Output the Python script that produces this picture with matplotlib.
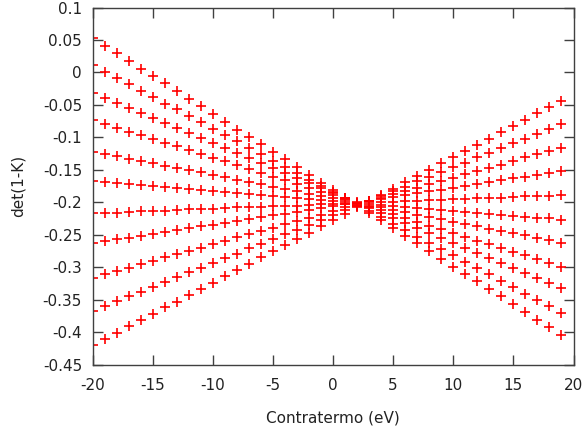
import matplotlib

matplotlib.use("Agg")
import matplotlib.pyplot as plt  # noqa: E402
from matplotlib.ticker import MultipleLocator  # noqa: E402

# counterterm values (eV), one marker per integer step
contratermo = list(range(-20, 20))

# det(1-K), one list per curve, ordered top-to-bottom at the left edge
det_1 = [0.053, 0.041, 0.030, 0.018, 0.006, -0.006, -0.017, -0.029, -0.041, -0.052,
         -0.064, -0.076, -0.088, -0.099, -0.111, -0.123, -0.134, -0.146, -0.158, -0.170,
         -0.181, -0.193, -0.205, -0.217, -0.228, -0.240, -0.252, -0.263, -0.275, -0.287,
         -0.299, -0.310, -0.322, -0.334, -0.345, -0.357, -0.369, -0.381, -0.392, -0.404]
det_2 = [0.011, 0.001, -0.009, -0.018, -0.028, -0.038, -0.048, -0.057, -0.067, -0.077,
         -0.087, -0.096, -0.106, -0.116, -0.126, -0.136, -0.145, -0.155, -0.165, -0.175,
         -0.184, -0.194, -0.204, -0.214, -0.223, -0.233, -0.243, -0.253, -0.263, -0.272,
         -0.282, -0.292, -0.302, -0.311, -0.321, -0.331, -0.341, -0.350, -0.360, -0.370]
det_3 = [-0.032, -0.040, -0.047, -0.055, -0.063, -0.070, -0.078, -0.086, -0.094, -0.101,
         -0.109, -0.117, -0.124, -0.132, -0.140, -0.147, -0.155, -0.163, -0.170, -0.178,
         -0.186, -0.194, -0.201, -0.209, -0.217, -0.224, -0.232, -0.240, -0.247, -0.255,
         -0.263, -0.270, -0.278, -0.286, -0.294, -0.301, -0.309, -0.317, -0.324, -0.332]
det_4 = [-0.074, -0.080, -0.086, -0.091, -0.097, -0.103, -0.109, -0.114, -0.120, -0.126,
         -0.132, -0.137, -0.143, -0.149, -0.155, -0.161, -0.166, -0.172, -0.178, -0.184,
         -0.189, -0.195, -0.201, -0.207, -0.212, -0.218, -0.224, -0.230, -0.236, -0.241,
         -0.247, -0.253, -0.259, -0.264, -0.270, -0.276, -0.282, -0.287, -0.293, -0.299]
det_5 = [-0.122, -0.126, -0.129, -0.133, -0.136, -0.140, -0.144, -0.147, -0.151, -0.154,
         -0.158, -0.161, -0.165, -0.169, -0.172, -0.176, -0.179, -0.183, -0.187, -0.190,
         -0.194, -0.197, -0.201, -0.205, -0.208, -0.212, -0.215, -0.219, -0.223, -0.226,
         -0.230, -0.233, -0.237, -0.241, -0.244, -0.248, -0.251, -0.255, -0.258, -0.262]
det_6 = [-0.167, -0.169, -0.170, -0.172, -0.173, -0.175, -0.176, -0.178, -0.179, -0.181,
         -0.182, -0.184, -0.185, -0.187, -0.189, -0.190, -0.192, -0.193, -0.195, -0.196,
         -0.198, -0.199, -0.201, -0.202, -0.204, -0.205, -0.207, -0.209, -0.210, -0.212,
         -0.213, -0.215, -0.216, -0.218, -0.219, -0.221, -0.222, -0.224, -0.225, -0.227]
det_7 = [-0.217, -0.216, -0.216, -0.215, -0.214, -0.213, -0.213, -0.212, -0.211, -0.211,
         -0.210, -0.209, -0.208, -0.208, -0.207, -0.206, -0.206, -0.205, -0.204, -0.203,
         -0.203, -0.202, -0.201, -0.200, -0.200, -0.199, -0.198, -0.198, -0.197, -0.196,
         -0.195, -0.195, -0.194, -0.193, -0.193, -0.192, -0.191, -0.190, -0.190, -0.189]
det_8 = [-0.263, -0.260, -0.257, -0.255, -0.252, -0.249, -0.246, -0.243, -0.240, -0.237,
         -0.235, -0.232, -0.229, -0.226, -0.223, -0.220, -0.218, -0.215, -0.212, -0.209,
         -0.206, -0.203, -0.200, -0.198, -0.195, -0.192, -0.189, -0.186, -0.183, -0.181,
         -0.178, -0.175, -0.172, -0.169, -0.166, -0.163, -0.161, -0.158, -0.155, -0.152]
det_9 = [-0.316, -0.311, -0.306, -0.301, -0.295, -0.290, -0.285, -0.280, -0.275, -0.270,
         -0.265, -0.260, -0.254, -0.249, -0.244, -0.239, -0.234, -0.229, -0.224, -0.219,
         -0.213, -0.208, -0.203, -0.198, -0.193, -0.188, -0.183, -0.178, -0.172, -0.167,
         -0.162, -0.157, -0.152, -0.147, -0.142, -0.136, -0.131, -0.126, -0.121, -0.116]
det_10 = [-0.367, -0.360, -0.352, -0.345, -0.338, -0.330, -0.323, -0.315, -0.308, -0.301,
          -0.293, -0.286, -0.279, -0.271, -0.264, -0.257, -0.249, -0.242, -0.235, -0.227,
          -0.220, -0.212, -0.205, -0.198, -0.190, -0.183, -0.176, -0.168, -0.161, -0.154,
          -0.146, -0.139, -0.131, -0.124, -0.117, -0.109, -0.102, -0.095, -0.087, -0.080]
det_11 = [-0.420, -0.410, -0.401, -0.391, -0.381, -0.372, -0.362, -0.353, -0.343, -0.333,
          -0.324, -0.314, -0.304, -0.295, -0.285, -0.275, -0.266, -0.256, -0.247, -0.237,
          -0.227, -0.218, -0.208, -0.198, -0.189, -0.179, -0.169, -0.160, -0.150, -0.140,
          -0.131, -0.121, -0.112, -0.102, -0.092, -0.083, -0.073, -0.063, -0.054, -0.044]

curves = [det_1, det_2, det_3, det_4, det_5, det_6, det_7, det_8, det_9, det_10, det_11]

plt.rcParams["font.family"] = "DejaVu Sans"
plt.rcParams["axes.unicode_minus"] = False

fig = plt.figure(figsize=(5.82, 4.34), dpi=100)
ax = fig.add_axes([0.159, 0.160, 0.8264, 0.8227])

for ys in curves:
    ax.plot(contratermo, ys, linestyle="none", marker="+", ms=6.5, mew=1.2,
            color="#ff0000")

ax.set_xlim(-20, 20)
ax.set_ylim(-0.45, 0.1)
ax.xaxis.set_major_locator(MultipleLocator(5))
ax.yaxis.set_major_locator(MultipleLocator(0.05))
ax.yaxis.set_major_formatter(plt.FuncFormatter(lambda v, _: f"{v:.2f}".rstrip("0").rstrip(".")
                                               if abs(v) > 1e-9 else "0"))

for s in ax.spines.values():
    s.set_color("#404040")
    s.set_linewidth(1.0)
ax.tick_params(direction="in", length=7, width=1, color="#404040",
               top=True, right=True, labelsize=11, labelcolor="#222222")
ax.tick_params(axis="y", pad=7.5)
ax.tick_params(axis="x", pad=10)

ax.set_xlabel("Contratermo (eV)", fontsize=11, color="#222222")
ax.set_ylabel("det(1-K)", fontsize=11, color="#222222")
ax.xaxis.set_label_coords(0.5, -0.130)
ax.yaxis.set_label_coords(-0.140, 0.5)

fig.savefig("out.png")
plt.close(fig)
